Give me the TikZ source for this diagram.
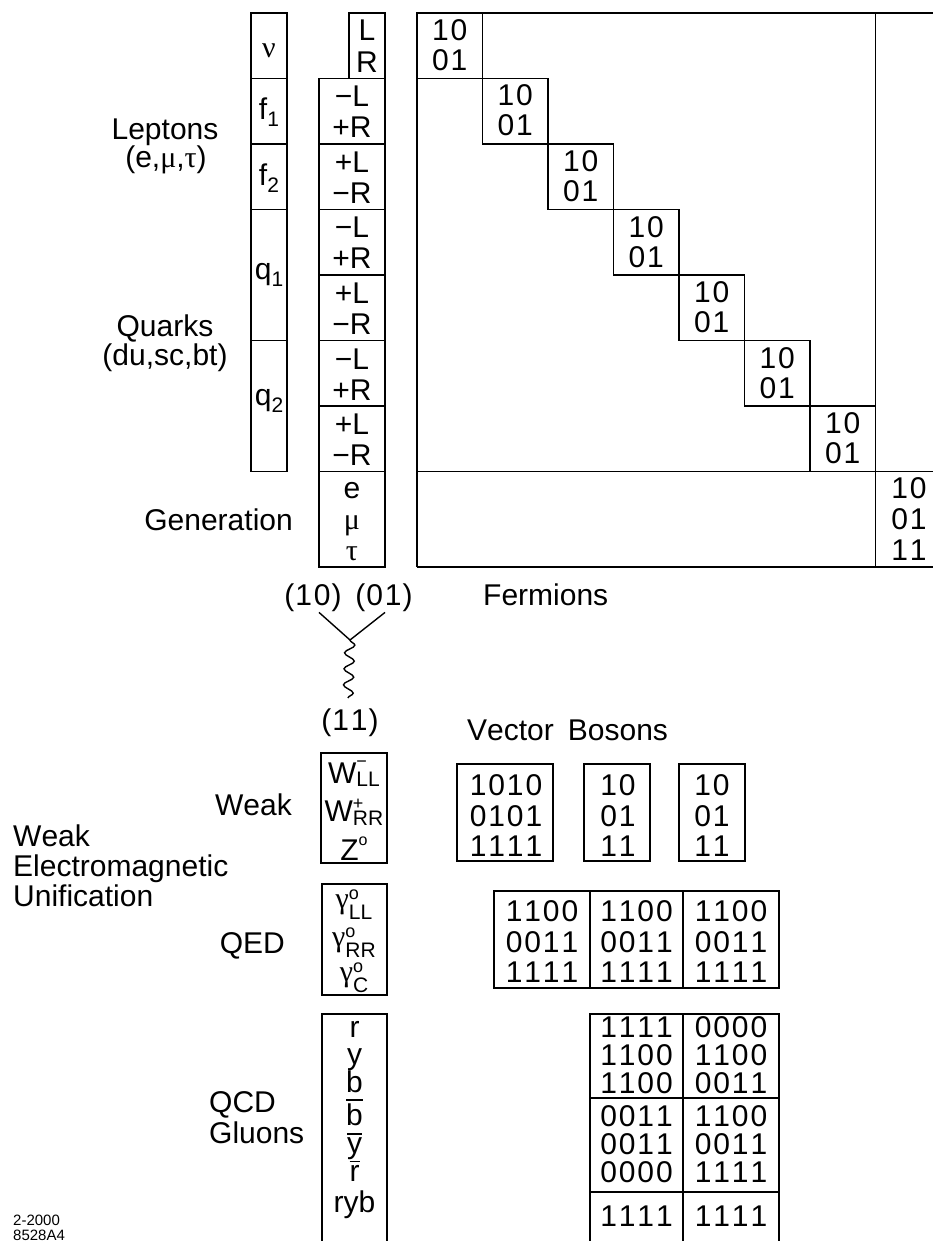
\documentclass[tikz,border=0pt]{standalone}
\usepackage{fontspec}
\setmainfont{Liberation Sans}[Kerning=Off]
\newfontfamily\grk{Liberation Serif}
\usetikzlibrary{decorations.pathmorphing,calc}
\newcommand\smallf{\fontsize{21}{21}\selectfont}
\newcommand\SupSub[4]{\makebox[0pt][l]{\raisebox{#3}{\fontsize{18}{18}\selectfont #1}}\raisebox{#4}{\smallf #2}}
\newcommand\Ovl[1]{\vbox{\hrule height 1.6pt\kern 2.5pt\hbox{#1}}}
\newcommand\Deg[1]{\raisebox{#1}{\fontsize{16}{16}\selectfont o}}
\newcommand\Sub[1]{\raisebox{-7pt}{\smallf #1}}
% evenly spaced digits, as in the reference
\newcommand\Dg[1]{\DgLoop#1\relax}
\def\DgLoop#1{\ifx\relax#1\else\makebox[0.62em]{#1}\expandafter\DgLoop\fi}
\newcommand\DgX[1]{\expandafter\Dg\expandafter{#1}}
\begin{document}
\begin{tikzpicture}[x=1pt,y=-1pt,
  ln/.style={line width=1.7pt},
  thin/.style={line width=1.4pt},
  txt/.style={inner sep=0pt, anchor=base, font=\fontsize{30}{31}\selectfont},
  lab/.style={txt, anchor=base west},
  labr/.style={txt, anchor=base east},
  tiny/.style={inner sep=0pt, anchor=base west, font=\fontsize{15}{15}\selectfont}]
\useasboundingbox (0,0) rectangle (932,1241);

% ---------------- left labels ----------------
\node[txt] (lep) at (165,140) {Leptons};
\node[txt] (lep2) at (166,168) {(e,{\grk μ},{\grk τ})};
\node[txt] (qua) at (165,336) {Quarks};
\node[txt] (qua2) at (165,365) {(du,sc,bt)};
\node[labr] (gen) at (293,530) {Generation};

% ---------------- first column ----------------
\draw[ln] (251,13) rectangle (287,78.5);
\draw[ln] (251,78.5) rectangle (287,144);
\draw[ln] (251,144) rectangle (287,209.5);
\draw[ln] (251,209.5) rectangle (287,340.5);
\draw[ln] (251,340.5) rectangle (287,471.5);
\node[txt] (nu) at (269,58) {\grk ν};
\node[txt] (f1) at (269,120) {f\Sub{1}};
\node[txt] (f2) at (269,186) {f\Sub{2}};
\node[txt] (q1) at (269,279) {q\Sub{1}};
\node[txt] (q2) at (269,405) {q\Sub{2}};

% ---------------- second column ----------------
\draw[ln] (349,13) rectangle (385,78.5);
\node[txt] (cL) at (367,41) {L};
\node[txt] (cR) at (367,72.5) {R};
\foreach \k/\a/\b in {1/−L/+R,2/+L/−R,3/−L/+R,4/+L/−R,5/−L/+R,6/+L/−R}{
  \draw[ln] (319,{13+65.5*\k}) rectangle (385,{13+65.5*\k+65.5});
  \node[txt] (s\k-a) at (352,{13+65.5*\k+28.5}) {\a};
  \node[txt] (s\k-b) at (352,{13+65.5*\k+59.5}) {\b};
}
\draw[ln] (319,471.5) rectangle (385,567);
\node[txt] (ge) at (352,498) {e};
\node[txt] (gm) at (352,529) {\grk μ};
\node[txt] (gt) at (352,560) {\grk τ};

% ---------------- fermion matrix ----------------
\draw[ln] (417,567) -- (417,13) -- (945,13);
\draw[ln] (417,471.5) -- (945,471.5);
\draw[ln] (417,567) -- (945,567);
\draw[ln] (875.5,13) -- (875.5,567);
\foreach \k in {0,...,6}{
  \draw[ln] ({417+65.5*\k},{13+65.5*\k}) rectangle ++(65.5,65.5);
  \node[txt] (m\k-a) at ({449.75+65.5*\k},{13+65.5*\k+27.5}) {\Dg{10}};
  \node[txt] (m\k-b) at ({449.75+65.5*\k},{13+65.5*\k+57.5}) {\Dg{01}};
}
\node[txt] (mg-a) at (909,498) {\Dg{10}};
\node[txt] (mg-b) at (909,529) {\Dg{01}};
\node[txt] (mg-c) at (909,560) {\Dg{11}};
\node[lab] (ferm) at (483,605) {Fermions};

% ---------------- vertex ----------------
\node[txt] (p10) at (313,605) {(\Dg{10})};
\node[txt] (p01) at (384,605) {(\Dg{01})};
\coordinate (vtx) at (350,640);
\coordinate (wend) at (348,698);
\draw[thin] ($(p10.south)+(6,1)$) -- (vtx) -- ($(p01.south)+(1,1)$);
\draw[thin, decorate, decoration={snake, segment length=16pt, amplitude=5pt}] (vtx) -- (wend);
\node[txt] (p11) at (350,730) {(\Dg{11})};
\node[lab] (vb) at (467,740) {Vector\hspace{14pt}Bosons};

% ---------------- weak ----------------
\node[labr] (weak) at (292,815) {Weak};
\node[lab] (u1) at (13,846) {Weak};
\node[lab] (u2) at (13,876) {Electromagnetic};
\node[lab] (u3) at (13,906) {Unification};
\draw[ln] (321,753) rectangle (387,863);
\node[txt] (wm) at (354,783) {W\SupSub{−}{LL}{16pt}{-3pt}};
\node[txt] (wp) at (354,821) {W\SupSub{+}{RR}{12pt}{-4pt}};
\node[txt] (z0) at (354,860) {Z\Deg{15pt}};

\draw[ln] (457,764) rectangle (553,861);
\draw[ln] (584,764) rectangle (650,861);
\draw[ln] (679,764) rectangle (745,861);
\foreach \x/\n/\a/\b/\c in {506/v1/1010/0101/1111, 618/v2/10/01/11, 712/v3/10/01/11}{
  \node[txt] (\n-a) at (\x,795) {\DgX{\a}};
  \node[txt] (\n-b) at (\x,826) {\DgX{\b}};
  \node[txt] (\n-c) at (\x,856) {\DgX{\c}};
}

% ---------------- QED ----------------
\node[labr] (qed) at (285,953) {QED};
\draw[ln] (322,884) rectangle (387,995);
\node[txt] (g1) at (354,908) {{\grk γ}\SupSub{o}{LL}{9pt}{-11pt}};
\node[txt] (g2) at (354,946) {{\grk γ}\SupSub{o}{RR}{9pt}{-11pt}};
\node[txt] (g3) at (354,981) {{\grk γ}\SupSub{o}{C}{9pt}{-11pt}};
\draw[ln] (494,891) rectangle (779,988);
\draw[ln] (590,891) -- (590,988);
\draw[ln] (683,891) -- (683,988);
\foreach \x/\n in {542/e1, 636.5/e2, 731/e3}{
  \node[txt] (\n-a) at (\x,921) {\Dg{1100}};
  \node[txt] (\n-b) at (\x,952) {\Dg{0011}};
  \node[txt] (\n-c) at (\x,982) {\Dg{1111}};
}

% ---------------- QCD ----------------
\node[lab] (qcd) at (209,1112) {QCD};
\node[lab] (glu) at (209,1143) {Gluons};
\draw[ln] (322,1250) -- (322,1014) -- (387,1014) -- (387,1250);
\node[txt] (k1) at (354.5,1037) {r};
\node[txt] (k2) at (354.5,1064) {y};
\node[txt] (k3) at (354.5,1092) {b};
\node[txt] (k4) at (354.5,1125) {\Ovl{b}};
\node[txt] (k5) at (354.5,1153) {\Ovl{y}};
\node[txt] (k6) at (354.5,1181) {\Ovl{r}};
\node[txt] (k7) at (354.5,1212) {ryb};
\draw[ln] (590,1250) -- (590,1014) -- (779,1014) -- (779,1250);
\draw[ln] (683,1014) -- (683,1250);
\draw[ln] (590,1098) -- (779,1098);
\draw[ln] (590,1192) -- (779,1192);
\foreach \y/\a/\b [count=\i] in {1037/1111/0000, 1065/1100/1100, 1093/1100/0011, 1126/0011/1100, 1154/0011/0011, 1182/0000/1111, 1226/1111/1111}{
  \node[txt] (ql\i) at (636.5,\y) {\DgX{\a}};
  \node[txt] (qr\i) at (731,\y) {\DgX{\b}};
}

% ---------------- footnote ----------------
\node[tiny] (id1) at (13,1225) {2-2000};
\node[tiny] (id2) at (13,1240) {8528A4};
\end{tikzpicture}
\end{document}
